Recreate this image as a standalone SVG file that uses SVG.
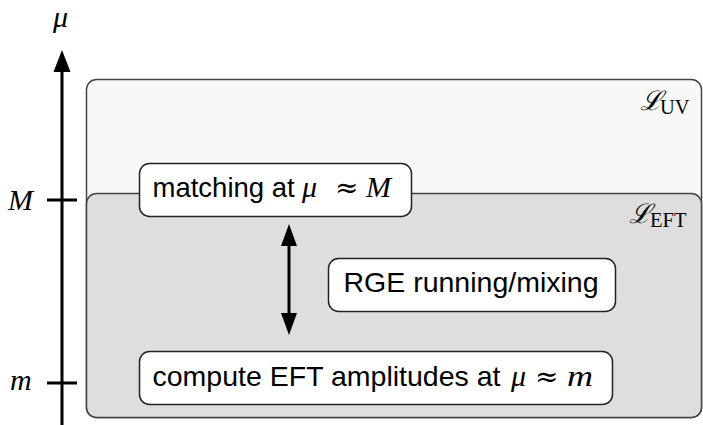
<svg xmlns="http://www.w3.org/2000/svg" width="703" height="425" viewBox="0 0 703 425">
<style>
.sans{font-family:"Liberation Sans",Arial,sans-serif;font-size:28.5px;fill:#000}
.math{font-family:"Liberation Serif","DejaVu Serif",serif;font-style:italic;font-size:30px}
.rel{font-family:"DejaVu Serif",serif;font-style:normal;font-size:28px}
.up{font-family:"Liberation Serif","DejaVu Serif",serif;font-style:normal}
.node{fill:#fff;stroke:#222;stroke-width:1.5}
.ax{stroke:#000;stroke-width:3;fill:none}
</style>
<g id="regions">
<rect id="uv" x="86.5" y="79.5" width="615" height="338" rx="10" fill="#f8f8f8" stroke="#444" stroke-width="1.5"/>
<rect id="eft" x="86.5" y="193.5" width="615" height="224" rx="10" fill="#dedede" stroke="#444" stroke-width="1.5"/>
<text x="640" y="110" font-family="Liberation Serif,DejaVu Serif,serif" font-size="27" font-style="italic">ℒ<tspan class="up" font-size="20.5" x="660" dy="4">UV</tspan></text>
<text x="629" y="223" font-family="Liberation Serif,DejaVu Serif,serif" font-size="27" font-style="italic">ℒ<tspan class="up" font-size="20.5" x="650" dy="4">EFT</tspan></text>
</g>
<g id="axis">
<line class="ax" x1="62" y1="425" x2="62" y2="68"/>
<path d="M62,50 L70.5,72 L53.5,72 Z" fill="#000"/>
<line class="ax" x1="47" y1="200" x2="77" y2="200"/>
<line class="ax" x1="47" y1="383" x2="77" y2="383"/>
<text class="math" x="53" y="27" font-size="28">μ</text>
<text class="math" x="8" y="210" font-size="31">M</text>
<text class="math" x="10" y="390" font-size="32">m</text>
</g>
<g id="connectors">
<line class="ax" x1="289" y1="243" x2="289" y2="316"/>
<path d="M289,224 L297,246 L281,246 Z" fill="#000"/>
<path d="M289,335 L297,313 L281,313 Z" fill="#000"/>
</g>
<g id="matching">
<rect class="node" x="139.5" y="163.5" width="272" height="53" rx="10"/>
<text class="sans" x="152.5" y="197" font-size="27.5" style="font-size:27.5px">matching at <tspan class="math" x="302">μ </tspan><tspan class="rel" x="335">≈ </tspan><tspan class="math" x="366">M</tspan></text>
</g>
<g id="rge">
<rect class="node" x="328.5" y="258.5" width="287" height="53" rx="10"/>
<text class="sans" x="471" y="292" text-anchor="middle">RGE running/mixing</text>
</g>
<g id="compute">
<rect class="node" x="139.5" y="351.5" width="473" height="53" rx="10"/>
<text class="sans" x="152.5" y="386">compute EFT amplitudes at <tspan class="math" x="511">μ </tspan><tspan class="rel" x="535">≈ </tspan><tspan class="math" x="567" font-size="31" textLength="26" lengthAdjust="spacingAndGlyphs">m</tspan></text>
</g>
</svg>
